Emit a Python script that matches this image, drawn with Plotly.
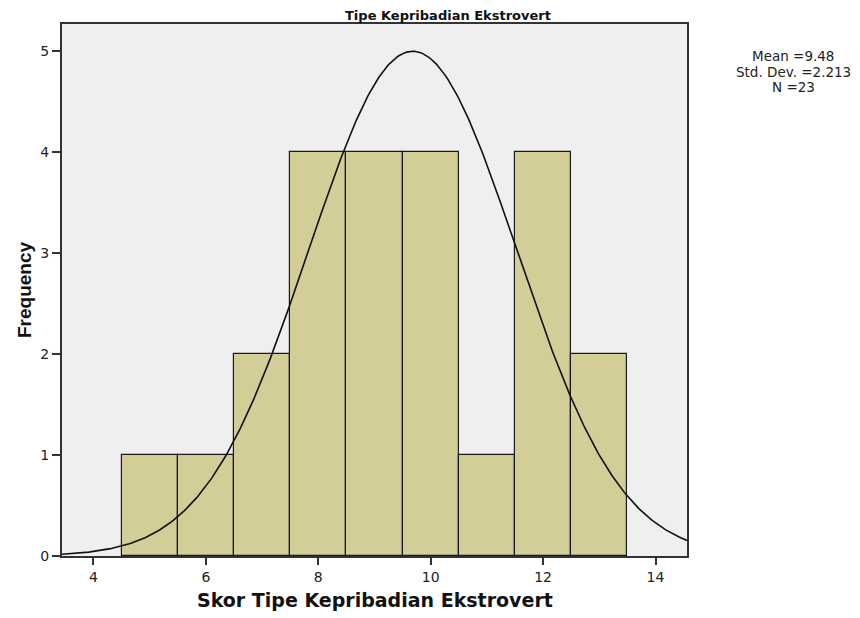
import numpy as np
import plotly.graph_objects as go

# Data
bin_centers = [5, 6, 7, 8, 9, 10, 11, 12, 13]
frequencies = [1, 1, 2, 4, 4, 4, 1, 4, 2]
x_tick_vals = [4, 6, 8, 10, 12, 14]
y_tick_vals = [0, 1, 2, 3, 4, 5]
stats_lines = ["Mean =9.48", "Std. Dev. =2.213", "N =23"]

# Normal curve overlay parameters (as drawn)
curve_mu = 9.68
curve_sigma = 1.85
curve_peak = 5.0
x_range = [3.44, 14.56]
y_range = [0, 5.27]

xc = np.linspace(x_range[0], x_range[1], 400)
yc = curve_peak * np.exp(-((xc - curve_mu) ** 2) / (2 * curve_sigma ** 2))

fig = go.Figure()
fig.add_trace(go.Bar(
    x=bin_centers, y=frequencies, width=1,
    marker=dict(color="#d3cd98", line=dict(color="#1a1a1a", width=1.2)),
    showlegend=False,
))
fig.add_trace(go.Scatter(
    x=xc, y=yc, mode="lines",
    line=dict(color="#111111", width=1.6),
    showlegend=False,
))

wide = "DejaVu Sans, Verdana, sans-serif"
narrow = "Liberation Sans, Arial, sans-serif"

L, T, PW, PH = 54, 16, 625, 532
W, H = 860, 618

def px_x(px):
    return (px - L) / PW

def px_y(py):
    return (T + PH - py) / PH

annotations = [
    dict(text="<b>Tipe Kepribadian Ekstrovert</b>", xref="paper", yref="paper",
         x=px_x(440), y=1.0, xanchor="center", yanchor="bottom", yshift=0,
         borderpad=0,
         showarrow=False, font=dict(family=wide, size=13, color="#111111")),
    dict(text="<b>Skor Tipe Kepribadian Ekstrovert</b>", xref="paper", yref="paper",
         x=0.5, y=px_y(592), xanchor="center", yanchor="middle",
         showarrow=False, font=dict(family=wide, size=19, color="#111111")),
    dict(text="<b>Frequency</b>", xref="paper", yref="paper", textangle=-90,
         x=px_x(16), y=px_y(282), xanchor="center", yanchor="middle",
         showarrow=False, font=dict(family=narrow, size=19, color="#111111")),
]
for i, line in enumerate(stats_lines):
    annotations.append(dict(
        text=line, xref="paper", yref="paper",
        x=px_x(785), y=px_y(48 + 15.5 * i), xanchor="center", yanchor="middle",
        showarrow=False, font=dict(family=wide, size=13.5, color="#222222")))

fig.update_layout(
    width=W, height=H,
    margin=dict(l=L, r=W - L - PW, t=T, b=H - T - PH),
    paper_bgcolor="white",
    plot_bgcolor="#efefef",
    font=dict(family=wide, color="#222222", size=14),
    bargap=0,
    xaxis=dict(
        range=x_range, tickvals=x_tick_vals, ticks="outside", ticklen=7,
        tickcolor="#333333", tickwidth=2,
        showgrid=False, zeroline=False,
        showline=True, linecolor="#333333", linewidth=2, mirror=True,
        tickfont=dict(size=14),
    ),
    yaxis=dict(
        range=y_range, tickvals=y_tick_vals, ticks="outside", ticklen=8,
        tickcolor="#333333", tickwidth=2,
        showgrid=False, zeroline=False,
        showline=True, linecolor="#333333", linewidth=2, mirror=True,
        tickfont=dict(size=14),
    ),
    annotations=annotations,
)

fig.write_html("out.html")
